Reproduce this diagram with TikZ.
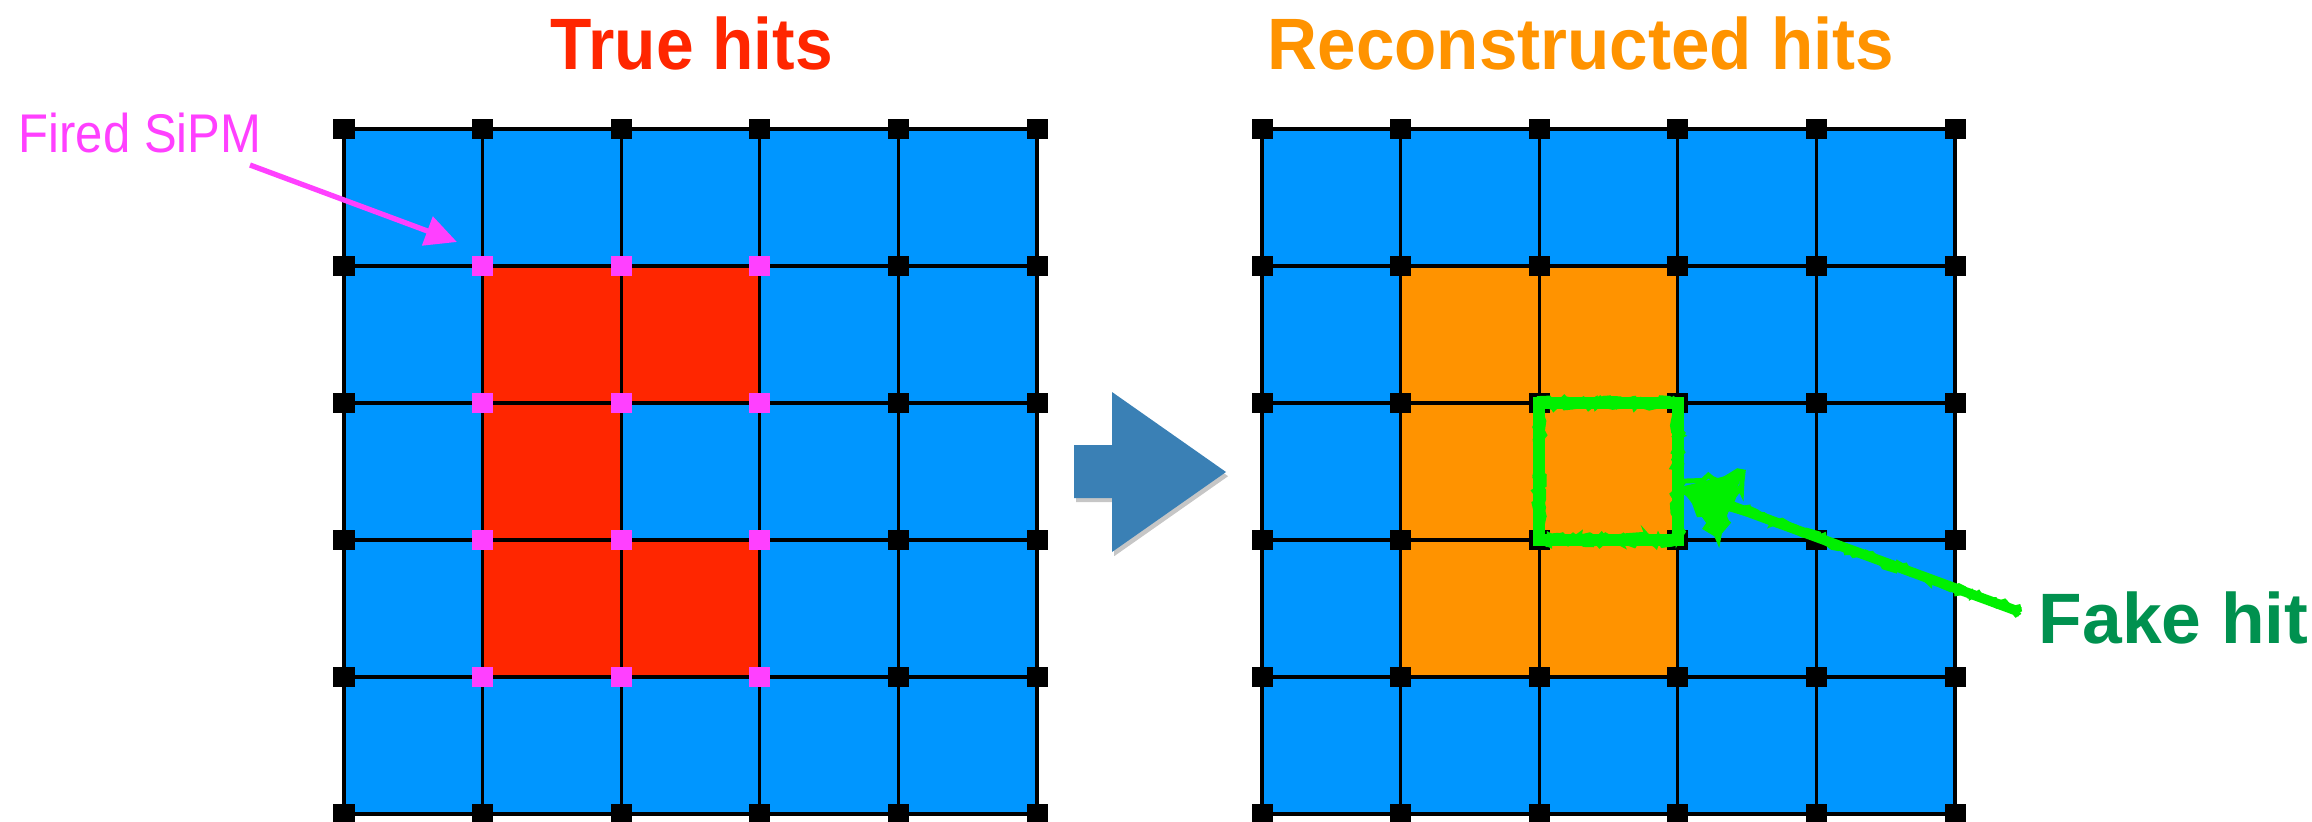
\documentclass[tikz,border=0pt]{standalone}
\usepackage{fontspec}
\setmainfont{Liberation Sans}
\usetikzlibrary{calc,shadows,decorations.pathmorphing,arrows.meta}

\definecolor{cellblue}{HTML}{0096FF}
\definecolor{hitred}{HTML}{FF2600}
\definecolor{recoorange}{HTML}{FF9300}
\definecolor{sipmmag}{HTML}{FF40FF}
\definecolor{fakegreen}{HTML}{00914F}
\definecolor{marker}{HTML}{00F000}
\definecolor{stepblue}{HTML}{3A80B5}

\begin{document}
\begin{tikzpicture}[x=0.01cm,y=-0.01cm,
  gridline/.style={line width=0.9pt, black},
  sqr/.style={inner sep=0pt, minimum width=0.21cm, minimum height=0.2cm, draw=none},
  sipmoff/.style={sqr, fill=black},
  sipmon/.style={sqr, fill=sipmmag},
  title/.style={anchor=base west, inner sep=0pt, font=\fontsize{20.7pt}{24pt}\selectfont\bfseries},
  rough/.style={decorate, decoration={random steps, segment length=2pt, amplitude=1.5pt}},
]
\useasboundingbox (0,0) rectangle (2312,821);
\pgfmathsetseed{7}

\def\cw{138.6}
\def\ch{137}
\def\gy{129}

% ---------- left panel: true hits ----------
\def\lx{344}
\fill[cellblue] (\lx,\gy) rectangle ++(693,685);
\foreach \c/\r in {1/1,2/1,1/2,1/3,2/3}
  \fill[hitred] ({\lx+\c*\cw},{\gy+\r*\ch}) rectangle ++(\cw,\ch);
\foreach \i in {0,...,5} {
  \draw[gridline] ({\lx+\i*\cw},\gy) -- ++(0,685);
  \draw[gridline] (\lx,{\gy+\i*\ch}) -- ++(693,0);
}
\foreach \i in {0,...,5} \foreach \j in {0,...,5} {
  \pgfmathtruncatemacro\on{(\i>0)&&(\i<4)&&(\j>0)&&(\j<5)}
  \ifnum\on=1 \def\st{sipmon}\else\def\st{sipmoff}\fi
  \node[\st] (L-\i-\j) at ({\lx+\i*\cw},{\gy+\j*\ch}) {};
}

% ---------- right panel: reconstructed hits ----------
\def\rx{1262}
\fill[cellblue] (\rx,\gy) rectangle ++(693,685);
\foreach \c/\r in {1/1,2/1,1/2,2/2,1/3,2/3}
  \fill[recoorange] ({\rx+\c*\cw},{\gy+\r*\ch}) rectangle ++(\cw,\ch);
\foreach \i in {0,...,5} {
  \draw[gridline] ({\rx+\i*\cw},\gy) -- ++(0,685);
  \draw[gridline] (\rx,{\gy+\i*\ch}) -- ++(693,0);
}
\foreach \i in {0,...,5} \foreach \j in {0,...,5}
  \node[sipmoff] (R-\i-\j) at ({\rx+\i*\cw},{\gy+\j*\ch}) {};

% ---------- titles and labels ----------
\node[title, text=hitred] (truetitle) at (550,70) {\scalebox{0.93}[1]{True hits}};
\node[title, text=recoorange] (recotitle) at (1267,70) {\scalebox{0.95}[1]{Reconstructed hits}};
\node[anchor=base west, inner sep=0pt, text=sipmmag,
      font=\fontsize{15.5pt}{18pt}\selectfont] (fired) at (18,152) {\scalebox{0.9}[1]{Fired SiPM}};
\node[anchor=base west, inner sep=0pt, text=fakegreen,
      font=\fontsize{20.3pt}{24pt}\selectfont\bfseries] (fake) at (2038,643) {Fake hit};

% fired SiPM pointer
\coordinate (firedtail) at (250,165);
\coordinate (firedtip) at (457,242);
\draw[sipmmag, line width=1.5pt, -{Triangle[length=9pt,width=8.5pt]}] (firedtail) -- (firedtip);

% transition arrow between the panels
\fill[stepblue, drop shadow={shadow xshift=0.6pt, shadow yshift=-1.2pt, opacity=0.45}]
  (1074,445) -- (1112,445) -- (1112,392) -- (1226,472) -- (1112,552) -- (1112,498) -- (1074,498) -- cycle;

% hand-marked fake hit
\draw[marker, line width=3.4pt] (R-2-2.center) rectangle (R-3-3.center);
\foreach \k in {1,2,3}
  \draw[marker, line width=1.5pt, rough] (R-2-2.center) rectangle (R-3-3.center);

\coordinate (faketail) at (2020,612);
\coordinate (faketip) at (1680,487);
\coordinate (fakebase) at ($(faketip)!0.54cm!(faketail)$);
\draw[marker, line width=2.8pt] (faketail) -- (fakebase);
\foreach \k in {1,2}
  \draw[marker, line width=1.3pt, rough] (faketail) -- (fakebase);
\fill[marker] (faketip) -- ($(fakebase)!0.36cm!90:(faketail)$) -- ($(fakebase)!0.36cm!-90:(faketail)$) -- cycle;
\draw[marker, line width=1.4pt, rough] (faketip) -- ($(fakebase)!0.36cm!90:(faketail)$) -- ($(fakebase)!0.36cm!-90:(faketail)$) -- cycle;
\end{tikzpicture}
\end{document}
